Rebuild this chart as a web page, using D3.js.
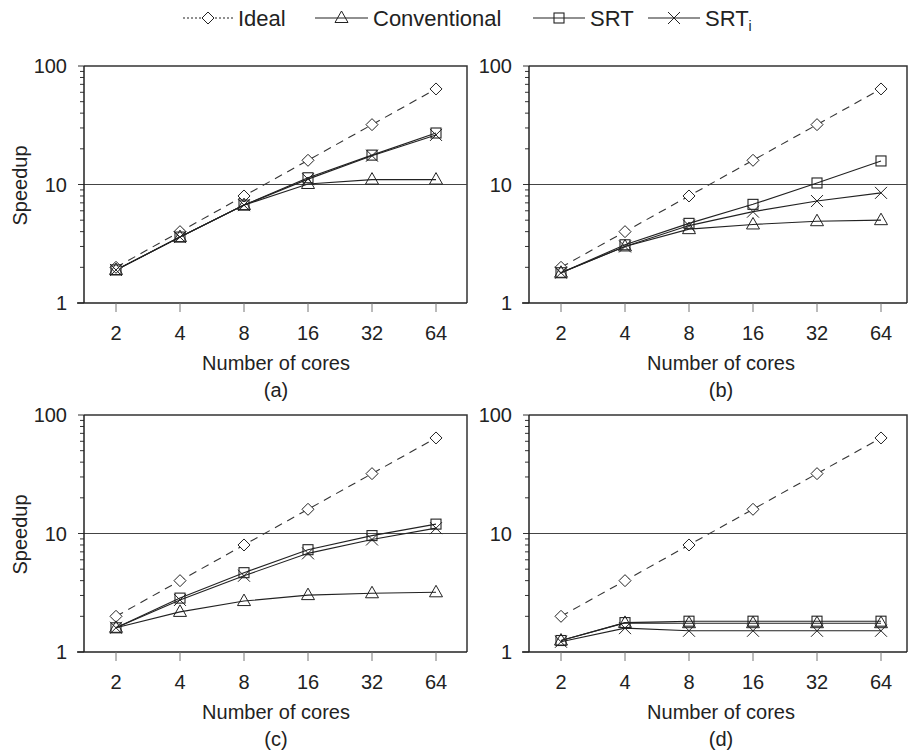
<!DOCTYPE html>
<html>
<head>
<meta charset="utf-8">
<script src="https://cdn.jsdelivr.net/npm/d3@7"></script>
<style>
  body { margin: 0; background: #fff; }
  svg { display: block; font-family: "Liberation Sans", Arial, sans-serif; }
</style>
</head>
<body>
<div id="chart-container"></div>
<script>
// x categories (number of cores)
const cores = ["2", "4", "8", "16", "32", "64"];
const yTickValues = [1, 10, 100];

// speedup values per panel
const idealSpeedup = [2, 4, 8, 16, 32, 64];

const convA = [1.9, 3.6, 6.7, 10.1, 11.0, 11.0];
const srtA = [1.9, 3.6, 6.7, 11.4, 17.7, 27.2];
const srtiA = [1.9, 3.6, 6.7, 11.1, 17.5, 26.2];

const convB = [1.8, 3.0, 4.2, 4.6, 4.9, 5.0];
const srtB = [1.8, 3.1, 4.7, 6.8, 10.3, 15.8];
const srtiB = [1.8, 3.0, 4.5, 5.9, 7.25, 8.5];

const convC = [1.6, 2.18, 2.69, 3.02, 3.13, 3.19];
const srtC = [1.6, 2.85, 4.67, 7.3, 9.6, 12.0];
const srtiC = [1.6, 2.75, 4.4, 6.8, 8.9, 11.1];

const convD = [1.25, 1.76, 1.75, 1.75, 1.75, 1.75];
const srtD = [1.25, 1.77, 1.82, 1.82, 1.82, 1.82];
const srtiD = [1.22, 1.59, 1.51, 1.51, 1.51, 1.51];

const width = 912;
const height = 751;
const decade = 118.5;
const axisFont = 20;

const svg = d3.select("#chart-container")
    .append("svg")
    .attr("width", width)
    .attr("height", height);

const panels = [
    { label: "(a)", left: 84, top: 66, frameRight: 467, speedup: true, conv: convA, srt: srtA, srti: srtiA },
    { label: "(b)", left: 529, top: 66, frameRight: 907, speedup: false, conv: convB, srt: srtB, srti: srtiB },
    { label: "(c)", left: 84, top: 415, frameRight: 467, speedup: true, conv: convC, srt: srtC, srti: srtiC },
    { label: "(d)", left: 529, top: 415, frameRight: 907, speedup: false, conv: convD, srt: srtD, srti: srtiD }
];

// marker shapes
function drawMarker(sel, type, x, y) {
    if (type === "diamond") {
        sel.append("path")
            .attr("d", `M${x},${y - 6}L${x + 6},${y}L${x},${y + 6}L${x - 6},${y}Z`)
            .attr("fill", "#fff").attr("stroke", "#222").attr("stroke-width", 1);
    } else if (type === "triangle") {
        sel.append("path")
            .attr("d", `M${x},${y - 7}L${x + 6.5},${y + 4.5}L${x - 6.5},${y + 4.5}Z`)
            .attr("fill", "none").attr("stroke", "#222").attr("stroke-width", 1);
    } else if (type === "square") {
        sel.append("rect")
            .attr("x", x - 5).attr("y", y - 5).attr("width", 10).attr("height", 10)
            .attr("fill", "none").attr("stroke", "#222").attr("stroke-width", 1.1);
    } else if (type === "cross") {
        sel.append("path")
            .attr("d", `M${x - 6},${y - 6}L${x + 6},${y + 6}M${x + 6},${y - 6}L${x - 6},${y + 6}`)
            .attr("fill", "none").attr("stroke", "#222").attr("stroke-width", 1);
    }
}

function drawPanel(p) {
    const bottom = p.top + 2 * decade;
    const g = svg.append("g");

    const x = d3.scalePoint()
        .domain(cores)
        .range([p.left, p.left + 384])
        .padding(0.5);

    const y = d3.scaleLog()
        .domain([1, 100])
        .range([bottom, p.top]);

    // frame: top and right
    g.append("path")
        .attr("d", `M${p.left},${p.top}H${p.frameRight}V${bottom}`)
        .attr("fill", "none").attr("stroke", "#333").attr("stroke-width", 1.5);

    // gridline at 10
    g.append("line")
        .attr("x1", p.left).attr("x2", p.frameRight)
        .attr("y1", y(10)).attr("y2", y(10))
        .attr("stroke", "#444").attr("stroke-width", 1);

    // y axis with minor ticks
    const minor = [];
    for (let d = 1; d <= 10; d *= 10) {
        for (let k = 2; k <= 9; k++) minor.push(d * k);
    }
    g.selectAll(".minor").data(minor).enter().append("line")
        .attr("x1", p.left - 4).attr("x2", p.left)
        .attr("y1", d => y(d)).attr("y2", d => y(d))
        .attr("stroke", "#333").attr("stroke-width", 1);
    g.selectAll(".major").data(yTickValues).enter().append("line")
        .attr("x1", p.left - 6).attr("x2", p.left)
        .attr("y1", d => y(d)).attr("y2", d => y(d))
        .attr("stroke", "#333").attr("stroke-width", 1);
    g.selectAll(".ylab").data(yTickValues).enter().append("text")
        .attr("x", p.left - 17)
        .attr("y", d => y(d) + 7)
        .attr("text-anchor", "end")
        .attr("font-size", axisFont)
        .attr("fill", "#222")
        .text(d => d);
    g.append("line")
        .attr("x1", p.left).attr("x2", p.left)
        .attr("y1", p.top).attr("y2", bottom)
        .attr("stroke", "#222").attr("stroke-width", 1.5);

    // x axis
    g.append("line")
        .attr("x1", p.left - 7).attr("x2", p.frameRight)
        .attr("y1", bottom).attr("y2", bottom)
        .attr("stroke", "#222").attr("stroke-width", 1.5);
    g.selectAll(".xtick").data(cores).enter().append("line")
        .attr("x1", d => x(d)).attr("x2", d => x(d))
        .attr("y1", bottom).attr("y2", bottom + 9)
        .attr("stroke", "#777").attr("stroke-width", 1);
    g.selectAll(".xlab").data(cores).enter().append("text")
        .attr("x", d => x(d))
        .attr("y", bottom + 37)
        .attr("text-anchor", "middle")
        .attr("font-size", axisFont)
        .attr("fill", "#222")
        .text(d => d);
    g.append("text")
        .attr("x", p.left + 192)
        .attr("y", bottom + 67)
        .attr("text-anchor", "middle")
        .attr("font-size", axisFont)
        .attr("fill", "#222")
        .text("Number of cores");
    g.append("text")
        .attr("x", p.left + 192)
        .attr("y", bottom + 94)
        .attr("text-anchor", "middle")
        .attr("font-size", axisFont)
        .attr("fill", "#222")
        .text(p.label);
    if (p.speedup) {
        g.append("text")
            .attr("transform", `translate(27,${y(10) + 1}) rotate(-90)`)
            .attr("text-anchor", "middle")
            .attr("font-size", axisFont)
            .attr("fill", "#222")
            .text("Speedup");
    }

    const series = [
        { values: idealSpeedup, marker: "diamond", dash: "8,6", stroke: "#333" },
        { values: p.conv, marker: "triangle", dash: null, stroke: "#222" },
        { values: p.srt, marker: "square", dash: null, stroke: "#222" },
        { values: p.srti, marker: "cross", dash: null, stroke: "#222" }
    ];

    const line = d3.line()
        .x((d, i) => x(cores[i]))
        .y(d => y(d));

    series.forEach(s => {
        g.append("path")
            .datum(s.values)
            .attr("d", line)
            .attr("fill", "none")
            .attr("stroke", s.stroke)
            .attr("stroke-width", 1.1)
            .attr("stroke-dasharray", s.dash);
    });
    series.forEach(s => {
        const mg = g.append("g");
        s.values.forEach((v, i) => drawMarker(mg, s.marker, x(cores[i]), y(v)));
    });
}

panels.forEach(drawPanel);

// legend
const legendItems = [
    { name: "Ideal", marker: "diamond", dash: "2,2", x0: 183, x1: 233, tx: 238 },
    { name: "Conventional", marker: "triangle", dash: null, x0: 315, x1: 368, tx: 373 },
    { name: "SRT", marker: "square", dash: null, x0: 533, x1: 585, tx: 590 },
    { name: "SRT", sub: "i", marker: "cross", dash: null, x0: 648, x1: 700, tx: 705 }
];
const legend = svg.append("g");
legendItems.forEach(it => {
    const cy = 18;
    legend.append("line")
        .attr("x1", it.x0).attr("x2", it.x1)
        .attr("y1", cy).attr("y2", cy)
        .attr("stroke", "#222").attr("stroke-width", 1.1)
        .attr("stroke-dasharray", it.dash);
    drawMarker(legend, it.marker, (it.x0 + it.x1) / 2, cy);
    const t = legend.append("text")
        .attr("x", it.tx).attr("y", cy + 8)
        .attr("font-size", 22)
        .attr("fill", "#222")
        .text(it.name);
    if (it.sub) {
        t.append("tspan")
            .attr("dy", 5)
            .attr("font-size", 14)
            .text(it.sub);
    }
});
</script>
</body>
</html>
